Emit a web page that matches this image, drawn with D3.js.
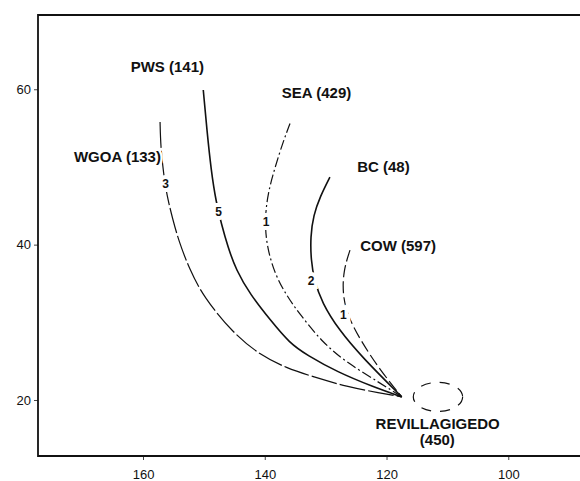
<!DOCTYPE html>
<html>

<head>
  <meta charset="utf-8">
  <style type="text/css">
    html, body {
      margin: 0;
      padding: 0;
      background: #fff;
      overflow: hidden;
    }
    svg {
      display: block;
      overflow: hidden;
    }
    .tick text {
      font-family: "Liberation Sans", Arial, sans-serif;
      font-size: 13px;
      fill: #111;
    }
    .tick line {
      stroke: #444;
    }
    .lbl {
      font-family: "Liberation Sans", Arial, sans-serif;
      font-weight: bold;
      fill: #111;
    }
  </style>
  <title>Routes</title>
</head>

<body>
  <script src="https://cdn.jsdelivr.net/npm/d3@7"></script>
  <script>
    // tracks as [longitude W, latitude N]
    var wgoaTrack = [[157.2, 55.8], [157.1, 52.6], [156.6, 49.0], [156.1, 46.4], [155.1, 43.2],
      [154.1, 40.4], [152.4, 36.9], [150.1, 33.3], [145.2, 28.6], [140.8, 25.8],
      [136.4, 24.1], [132.1, 23.0], [126.5, 21.7], [121.1, 20.9], [117.5, 20.4]];
    var pwsTrack = [[150.1, 59.9], [149.5, 54.7], [148.8, 49.5], [148.0, 45.5], [147.1, 42.6],
      [146.1, 39.8], [144.7, 36.7], [142.4, 33.6], [139.1, 30.3], [135.9, 27.3],
      [133.1, 25.8], [128.1, 23.6], [122.2, 21.7], [117.5, 20.4]];
    var seaTrack = [[135.85, 55.6], [137.0, 53.2], [138.3, 50.0], [139.5, 46.6], [140.0, 43.2],
      [139.7, 39.9], [138.4, 36.3], [136.4, 33.4], [134.2, 31.0], [130.4, 27.3],
      [126.5, 24.8], [121.1, 22.2], [117.5, 20.4]];
    var bcTrack = [[129.3, 48.7], [130.9, 46.2], [132.0, 43.8], [132.5, 41.0], [132.4, 38.0],
      [131.9, 35.5], [130.6, 32.5], [127.8, 29.0], [124.0, 25.5], [117.5, 20.4]];
    var cowTrack = [[126.0, 39.3], [127.1, 36.6], [127.2, 33.5], [126.4, 30.9], [124.3, 27.7],
      [121.1, 23.9], [117.5, 20.4]];

    var routeNames = ["WGOA (133)", "PWS (141)", "SEA (429)", "BC (48)", "COW (597)"];
    var routeLabelPos = [[164.2, 51.3], [156.0, 62.9], [131.5, 59.6], [120.5, 50.0], [118.1, 39.9]];
    var trackNumbers = ["3", "5", "1", "2", "1"];
    var trackNumberPos = [[156.3, 47.8], [147.6, 44.3], [139.8, 43.0], [132.4, 35.3], [127.1, 31.0]];

    // wintering area near Revillagigedo: centre and half-axes in degrees
    var winterArea = {lon: 111.55, lat: 20.4, rLon: 4.05, rLat: 1.87};
    var winterLabel = ["REVILLAGIGEDO", "(450)"];
    var winterLabelPos = [[111.6, 17.0], [111.65, 14.85]];

    var xTicks = [160, 140, 120, 100];
    var yTicks = [20, 40, 60];

    var margin = {top: 15, left: 38},
      width = 560,
      height = 441;

    var x = d3.scaleLinear()
      .domain([177.25, 85.26])
      .range([0, width]);

    var y = d3.scaleLinear()
      .domain([12.79, 69.56])
      .range([height, 0]);

    var svg = d3.select("body").append("svg")
      .attr("width", 580)
      .attr("height", 481)
      .append("g")
      .attr("transform", "translate(" + margin.left + "," + margin.top + ")");

    var xAxis = d3.axisBottom(x)
      .tickValues(xTicks)
      .tickSize(4)
      .tickPadding(10);
    svg.append("g")
      .attr("transform", "translate(0," + height + ")")
      .call(xAxis)
      .call(g => g.select(".domain").remove());

    var yAxis = d3.axisLeft(y)
      .tickValues(yTicks)
      .tickSize(4)
      .tickPadding(3);
    svg.append("g")
      .call(yAxis)
      .call(g => g.select(".domain").remove());

    // frame: top, left and bottom only, the right edge is off the picture
    svg.append("path")
      .attr("d", "M" + width + ",0H0V" + height + "H" + width)
      .attr("fill", "none")
      .attr("stroke", "#111")
      .attr("stroke-width", 1.8);

    var line = d3.line()
      .x(d => x(d[0]))
      .y(d => y(d[1]))
      .curve(d3.curveBasis);

    var tracks = [wgoaTrack, pwsTrack, seaTrack, bcTrack, cowTrack];
    var dashes = ["26,3", null, "10,3,2,3", null, "12,4"];
    var widths = [1.2, 1.6, 1.2, 1.6, 1.2];

    tracks.forEach(function (t, i) {
      svg.append("path").datum(t)
        .attr("d", line)
        .attr("fill", "none")
        .attr("stroke", "#111")
        .attr("stroke-width", widths[i])
        .attr("stroke-dasharray", dashes[i]);
    });

    svg.append("ellipse")
      .attr("cx", x(winterArea.lon))
      .attr("cy", y(winterArea.lat))
      .attr("rx", x(winterArea.lon - winterArea.rLon) - x(winterArea.lon))
      .attr("ry", y(winterArea.lat - winterArea.rLat) - y(winterArea.lat))
      .attr("fill", "none")
      .attr("stroke", "#111")
      .attr("stroke-width", 1.2)
      .attr("stroke-dasharray", "10,9");

    // numbers sit on the lines, a white halo cuts the line
    svg.selectAll(".num").data(trackNumbers).enter().append("text")
      .attr("class", "lbl")
      .attr("x", (d, i) => x(trackNumberPos[i][0]))
      .attr("y", (d, i) => y(trackNumberPos[i][1]))
      .attr("dy", "0.36em")
      .attr("text-anchor", "middle")
      .style("font-size", "12px")
      .style("paint-order", "stroke")
      .attr("stroke", "#fff")
      .attr("stroke-width", 8)
      .text(d => d);

    svg.selectAll(".route").data(routeNames).enter().append("text")
      .attr("class", "lbl")
      .attr("x", (d, i) => x(routeLabelPos[i][0]))
      .attr("y", (d, i) => y(routeLabelPos[i][1]))
      .attr("dy", "0.36em")
      .attr("text-anchor", "middle")
      .style("font-size", "15px")
      .style("paint-order", "stroke")
      .attr("stroke", "#fff")
      .attr("stroke-width", 5)
      .text(d => d);

    svg.selectAll(".winter").data(winterLabel).enter().append("text")
      .attr("class", "lbl")
      .attr("x", (d, i) => x(winterLabelPos[i][0]))
      .attr("y", (d, i) => y(winterLabelPos[i][1]))
      .attr("dy", "0.36em")
      .attr("text-anchor", "middle")
      .style("font-size", "15px")
      .text(d => d);
  </script>
</body>

</html>
